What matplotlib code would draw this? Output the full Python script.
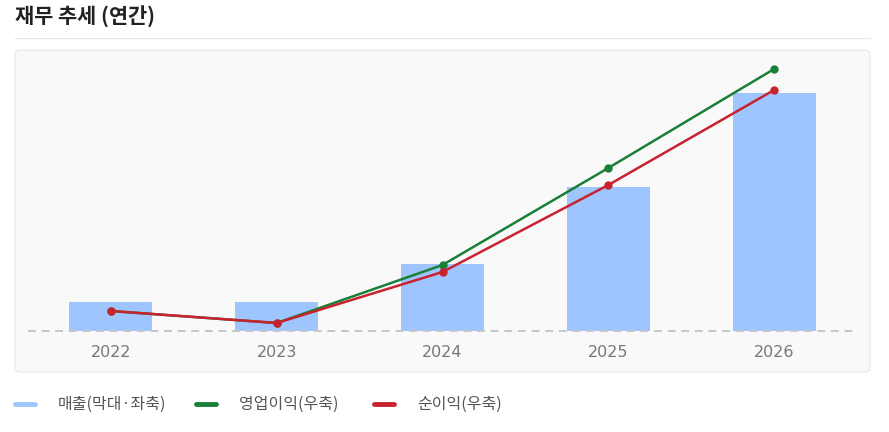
import matplotlib
matplotlib.use("Agg")
import matplotlib.pyplot as plt
from matplotlib.patches import FancyBboxPatch
from matplotlib.lines import Line2D

plt.rcParams["font.family"] = ["Noto Sans CJK KR", "DejaVu Sans"]

W, H = 889, 432

years = ["2022", "2023", "2024", "2025", "2026"]
revenue = [29, 29, 67, 144, 238]          # 매출 (막대, 좌축)
op_income = [20, 8, 66, 163, 262]         # 영업이익 (우축)
net_income = [20, 8, 59, 146, 241]        # 순이익 (우축)

BAR = "#9ec5fd"
GREEN = "#1a7f37"
RED = "#c8232f"


def fx(px):
    return px / W


def fy(py):
    return 1 - py / H


fig = plt.figure(figsize=(W / 100, H / 100), dpi=100)
fig.patch.set_facecolor("white")

# title + separator
fig.text(fx(15), fy(17), "재무 추세 (연간)", fontsize=15, fontweight="bold",
         color="#222222", va="center", ha="left")
fig.add_artist(Line2D([fx(15), fx(870)], [fy(38), fy(38)], color="#e6e6e6", lw=0.8))

# panel
panel = FancyBboxPatch((fx(15), fy(372)), fx(855), (372 - 50) / H,
                       boxstyle="round,pad=0,rounding_size=0.008",
                       transform=fig.transFigure, facecolor="#f9f9f9",
                       edgecolor="#e8e8e8", lw=0.8, zorder=0)
fig.add_artist(panel)

# plot area: x 28..857, y 60..331 px
ax = fig.add_axes([fx(28), fy(331), fx(857 - 28), (331 - 60) / H])
ax.patch.set_alpha(0)
x = list(range(len(years)))
ax.bar(x, revenue, width=0.5, color=BAR, zorder=1)
ax.set_xlim(-0.5, 4.5)
ax.set_ylim(0, 271)
ax.axhline(0, color="#c6c6c6", lw=1.4, ls=(0, (4, 3)), zorder=2, clip_on=False)
for s in ax.spines.values():
    s.set_visible(False)
ax.set_yticks([])
ax.set_xticks(x)
ax.set_xticklabels(years, fontsize=11.5, color="#777777", family="DejaVu Sans")
ax.tick_params(axis="x", length=0, pad=10)

ax2 = ax.twinx()
ax2.set_ylim(0, 271)
ax2.plot(x, op_income, color=GREEN, lw=1.8, marker="o", ms=5, zorder=3)
ax2.plot(x, net_income, color=RED, lw=1.8, marker="o", ms=5, zorder=4)
ax2.set_yticks([])
for s in ax2.spines.values():
    s.set_visible(False)

# legend
items = [(15, 35, BAR, 58, "매출(막대·좌축)"),
         (196, 216, GREEN, 239, "영업이익(우축)"),
         (374, 394, RED, 417, "순이익(우축)")]
for x0, x1, c, tx, label in items:
    fig.add_artist(Line2D([fx(x0), fx(x1)], [fy(404), fy(404)], color=c, lw=3.5,
                          solid_capstyle="round"))
    fig.text(fx(tx), fy(404), label, fontsize=11.5, color="#555555",
             va="center", ha="left")

fig.savefig("out.png", dpi=100)
